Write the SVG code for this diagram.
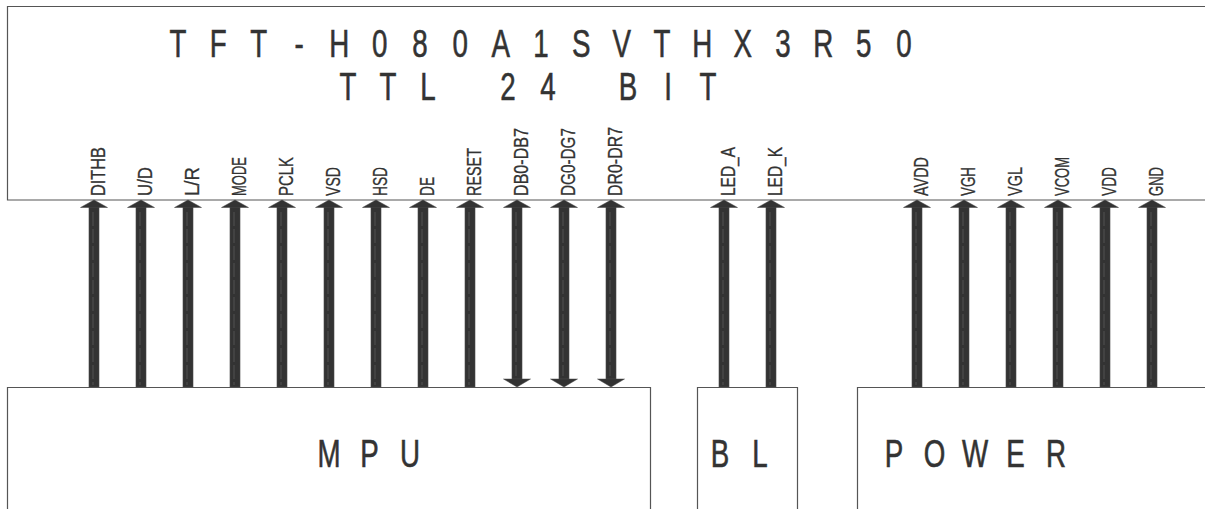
<svg xmlns="http://www.w3.org/2000/svg" width="1205" height="509" viewBox="0 0 1205 509">
<style>
.box{fill:none;stroke:#555;stroke-width:1.2}
.t{font-family:"Liberation Sans","Arial",sans-serif;fill:#333}
.big{font-size:38.5px;text-anchor:middle;white-space:pre;stroke:#333;stroke-width:0.6}
.pin{font-size:20.5px;stroke:#333;stroke-width:0.3}
.shaft{fill:#333;stroke:#4a4a4a;stroke-width:0.6}
.hl{stroke:#6a6a6a;stroke-width:0.6;stroke-dasharray:14 3}
.head{fill:#333;stroke:#444;stroke-width:0.5}
</style>
<defs>
<path id="hu" d="M-13.5,7.5 L0,0 L13.5,7.5 Z"/>
<path id="hd" d="M-13.5,-8 L13.5,-8 L0,0 Z"/>
</defs>
<rect width="1205" height="509" fill="#fff"/>

<g id="lcd">
<path class="box" d="M1210,6.5 H7.5 V200 H1210"/>
<g transform="scale(0.72,1)">
<text class="t big" xml:space="preserve" y="57" x="247.2 275.2 303.2 331.3 359.3 387.3 415.3 443.3 471.3 499.3 527.3 555.3 583.3 611.3 639.3 667.4 695.4 723.4 751.4 779.4 807.4 835.4 863.4 891.4 919.4 947.4 975.5 1003.5 1031.5 1059.5 1087.5 1115.5 1143.5 1171.5 1199.5 1227.5 1255.6">T F T - H 0 8 0 A 1 S V T H X 3 R 5 0</text>
<text class="t big" xml:space="preserve" y="100" x="483.3 511.1 538.9 566.7 594.4 622.2 650.0 677.8 705.6 733.3 761.1 788.9 816.7 844.4 872.2 900.0 927.8 955.6 983.3">T T L   2 4   B I T</text>
</g>
<g class="t pin">
<text transform="translate(105,196) rotate(-90)" textLength="49" lengthAdjust="spacingAndGlyphs">DITHB</text>
<text transform="translate(152,196) rotate(-90)" textLength="29" lengthAdjust="spacingAndGlyphs">U/D</text>
<text transform="translate(199,196) rotate(-90)" textLength="29" lengthAdjust="spacingAndGlyphs">L/R</text>
<text transform="translate(246,196) rotate(-90)" textLength="39" lengthAdjust="spacingAndGlyphs">MODE</text>
<text transform="translate(293,196) rotate(-90)" textLength="39" lengthAdjust="spacingAndGlyphs">PCLK</text>
<text transform="translate(340,196) rotate(-90)" textLength="29" lengthAdjust="spacingAndGlyphs">VSD</text>
<text transform="translate(387,196) rotate(-90)" textLength="29" lengthAdjust="spacingAndGlyphs">HSD</text>
<text transform="translate(434,196) rotate(-90)" textLength="19" lengthAdjust="spacingAndGlyphs">DE</text>
<text transform="translate(481,196) rotate(-90)" textLength="48" lengthAdjust="spacingAndGlyphs">RESET</text>
<text transform="translate(528,196) rotate(-90)" textLength="68" lengthAdjust="spacingAndGlyphs">DB0-DB7</text>
<text transform="translate(575,196) rotate(-90)" textLength="68" lengthAdjust="spacingAndGlyphs">DG0-DG7</text>
<text transform="translate(622,196) rotate(-90)" textLength="69" lengthAdjust="spacingAndGlyphs">DR0-DR7</text>
<text transform="translate(735,196) rotate(-90)" textLength="49" lengthAdjust="spacingAndGlyphs">LED_A</text>
<text transform="translate(782,196) rotate(-90)" textLength="49" lengthAdjust="spacingAndGlyphs">LED_K</text>
<text transform="translate(928,196) rotate(-90)" textLength="39" lengthAdjust="spacingAndGlyphs">AVDD</text>
<text transform="translate(975,196) rotate(-90)" textLength="29" lengthAdjust="spacingAndGlyphs">VGH</text>
<text transform="translate(1022,196) rotate(-90)" textLength="29" lengthAdjust="spacingAndGlyphs">VGL</text>
<text transform="translate(1069,196) rotate(-90)" textLength="39" lengthAdjust="spacingAndGlyphs">VCOM</text>
<text transform="translate(1116,196) rotate(-90)" textLength="29" lengthAdjust="spacingAndGlyphs">VDD</text>
<text transform="translate(1163,196) rotate(-90)" textLength="29" lengthAdjust="spacingAndGlyphs">GND</text>
</g>
</g>

<g id="mpu">
<path class="box" d="M7.5,515 V387.5 H650.5 V515"/>
<text class="t big" xml:space="preserve" transform="scale(0.72,1)" y="467" x="456.9 485.1 513.2 541.3 569.4">M P U</text>
</g>
<g id="bl">
<path class="box" d="M697.5,515 V387.5 H797.5 V515"/>
<text class="t big" xml:space="preserve" transform="scale(0.72,1)" y="467" x="1000 1027.8 1055.6">B L</text>
</g>
<g id="power">
<path class="box" d="M857.5,515 V387.5 H1210"/>
<text class="t big" xml:space="preserve" transform="scale(0.72,1)" y="467" x="1241.7 1269.8 1297.9 1326.0 1354.2 1382.3 1410.4 1438.5 1466.7">P O W E R</text>
</g>

<g id="connectors">
<g id="c-dithb"><rect class="shaft" x="89" y="207" width="10" height="180"/><line class="hl" x1="93" y1="212" x2="93" y2="385"/><use href="#hu" class="head" x="94" y="200"/></g>
<g id="c-ud"><rect class="shaft" x="136" y="207" width="10" height="180"/><line class="hl" x1="140" y1="212" x2="140" y2="385"/><use href="#hu" class="head" x="141" y="200"/></g>
<g id="c-lr"><rect class="shaft" x="183" y="207" width="10" height="180"/><line class="hl" x1="187" y1="212" x2="187" y2="385"/><use href="#hu" class="head" x="188" y="200"/></g>
<g id="c-mode"><rect class="shaft" x="230" y="207" width="10" height="180"/><line class="hl" x1="234" y1="212" x2="234" y2="385"/><use href="#hu" class="head" x="235" y="200"/></g>
<g id="c-pclk"><rect class="shaft" x="277" y="207" width="10" height="180"/><line class="hl" x1="281" y1="212" x2="281" y2="385"/><use href="#hu" class="head" x="282" y="200"/></g>
<g id="c-vsd"><rect class="shaft" x="324" y="207" width="10" height="180"/><line class="hl" x1="328" y1="212" x2="328" y2="385"/><use href="#hu" class="head" x="329" y="200"/></g>
<g id="c-hsd"><rect class="shaft" x="371" y="207" width="10" height="180"/><line class="hl" x1="375" y1="212" x2="375" y2="385"/><use href="#hu" class="head" x="376" y="200"/></g>
<g id="c-de"><rect class="shaft" x="418" y="207" width="10" height="180"/><line class="hl" x1="422" y1="212" x2="422" y2="385"/><use href="#hu" class="head" x="423" y="200"/></g>
<g id="c-reset"><rect class="shaft" x="465" y="207" width="10" height="180"/><line class="hl" x1="469" y1="212" x2="469" y2="385"/><use href="#hu" class="head" x="470" y="200"/></g>
<g id="c-db"><rect class="shaft" x="512" y="207" width="10" height="172"/><line class="hl" x1="516" y1="212" x2="516" y2="376"/><use href="#hu" class="head" x="517" y="200"/><use href="#hd" class="head" x="517" y="387"/></g>
<g id="c-dg"><rect class="shaft" x="559" y="207" width="10" height="172"/><line class="hl" x1="563" y1="212" x2="563" y2="376"/><use href="#hu" class="head" x="564" y="200"/><use href="#hd" class="head" x="564" y="387"/></g>
<g id="c-dr"><rect class="shaft" x="606" y="207" width="10" height="172"/><line class="hl" x1="610" y1="212" x2="610" y2="376"/><use href="#hu" class="head" x="611" y="200"/><use href="#hd" class="head" x="611" y="387"/></g>
<g id="c-leda"><rect class="shaft" x="719" y="207" width="10" height="180"/><line class="hl" x1="723" y1="212" x2="723" y2="385"/><use href="#hu" class="head" x="724" y="200"/></g>
<g id="c-ledk"><rect class="shaft" x="766" y="207" width="10" height="180"/><line class="hl" x1="770" y1="212" x2="770" y2="385"/><use href="#hu" class="head" x="771" y="200"/></g>
<g id="c-avdd"><rect class="shaft" x="912" y="207" width="10" height="180"/><line class="hl" x1="916" y1="212" x2="916" y2="385"/><use href="#hu" class="head" x="917" y="200"/></g>
<g id="c-vgh"><rect class="shaft" x="959" y="207" width="10" height="180"/><line class="hl" x1="963" y1="212" x2="963" y2="385"/><use href="#hu" class="head" x="964" y="200"/></g>
<g id="c-vgl"><rect class="shaft" x="1006" y="207" width="10" height="180"/><line class="hl" x1="1010" y1="212" x2="1010" y2="385"/><use href="#hu" class="head" x="1011" y="200"/></g>
<g id="c-vcom"><rect class="shaft" x="1053" y="207" width="10" height="180"/><line class="hl" x1="1057" y1="212" x2="1057" y2="385"/><use href="#hu" class="head" x="1058" y="200"/></g>
<g id="c-vdd"><rect class="shaft" x="1100" y="207" width="10" height="180"/><line class="hl" x1="1104" y1="212" x2="1104" y2="385"/><use href="#hu" class="head" x="1105" y="200"/></g>
<g id="c-gnd"><rect class="shaft" x="1147" y="207" width="10" height="180"/><line class="hl" x1="1151" y1="212" x2="1151" y2="385"/><use href="#hu" class="head" x="1152" y="200"/></g>
</g>
</svg>
